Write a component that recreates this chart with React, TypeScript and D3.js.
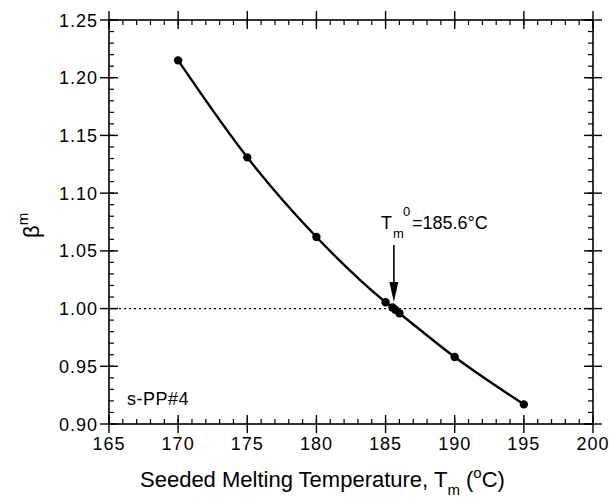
import React from "react";
import * as d3 from "d3";

const temps = [170, 175, 180, 185, 185.5, 185.7, 186, 190, 195];
const betas = [1.215, 1.131, 1.062, 1.0055, 1.001, 0.999, 0.996, 0.958, 0.917];
const curveTemps = [170, 175, 180, 185, 186, 190, 195];
const curveBetas = [1.215, 1.131, 1.062, 1.0055, 0.996, 0.958, 0.917];
const xTicks = [165, 170, 175, 180, 185, 190, 195, 200];
const yTicks = [0.9, 0.95, 1.0, 1.05, 1.1, 1.15, 1.2, 1.25];
const xMinor = d3.range(165, 201, 1);
const yMinor = d3.range(0, 36).map((i) => 0.9 + i * 0.01);
const annotTm = 185.6;
const sampleLabel = "s-PP#4";

const W = 610, H = 497;
const L = 109, R = 593, T = 20, B = 424;
const FONT = "'Liberation Sans', Arial, Helvetica, sans-serif";

export default function App() {
  const x = d3.scaleLinear().domain([165, 200]).range([L, R]);
  const y = d3.scaleLinear().domain([0.9, 1.25]).range([B, T]);
  const line = d3
    .line<number>()
    .x((_, i) => x(curveTemps[i]))
    .y((d) => y(d))
    .curve(d3.curveMonotoneX);
  const major = 9, minor = 5;
  const ax = x(annotTm);
  return (
    <svg width={W} height={H} style={{ position: "absolute", left: 0, top: 0, background: "#fff" }} fontFamily={FONT}>
      <rect x={L} y={T} width={R - L} height={B - T} fill="none" stroke="#000" strokeWidth={1.6} />
      {xMinor.map((v) => (
        <g key={"xm" + v} stroke="#000" strokeWidth={1.2}>
          <line x1={x(v)} x2={x(v)} y1={B} y2={B - minor} />
          <line x1={x(v)} x2={x(v)} y1={T} y2={T + minor} />
        </g>
      ))}
      {yMinor.map((v, i) => (
        <g key={"ym" + i} stroke="#000" strokeWidth={1.2}>
          <line x1={L} x2={L + minor} y1={y(v)} y2={y(v)} />
          <line x1={R} x2={R - minor} y1={y(v)} y2={y(v)} />
        </g>
      ))}
      {xTicks.map((v) => (
        <g key={"x" + v}>
          <line x1={x(v)} x2={x(v)} y1={B - major} y2={B + major} stroke="#000" strokeWidth={1.4} />
          <line x1={x(v)} x2={x(v)} y1={T - major} y2={T + major} stroke="#000" strokeWidth={1.4} />
          <text x={x(v)} y={450} fontSize={18} textAnchor="middle" letterSpacing={1}>{v}</text>
        </g>
      ))}
      {yTicks.map((v) => (
        <g key={"y" + v}>
          <line x1={L - major} x2={L + major} y1={y(v)} y2={y(v)} stroke="#000" strokeWidth={1.4} />
          <line x1={R - major} x2={R + major} y1={y(v)} y2={y(v)} stroke="#000" strokeWidth={1.4} />
          <text x={L - 11} y={y(v) + 6.5} fontSize={18} textAnchor="end" letterSpacing={1}>{v.toFixed(2)}</text>
        </g>
      ))}
      <line x1={L} x2={R} y1={y(1.0)} y2={y(1.0)} stroke="#000" strokeWidth={1.2} strokeDasharray="2,3" />
      <path d={line(curveBetas) || ""} fill="none" stroke="#000" strokeWidth={2.4} />
      {temps.map((t, i) => (
        <circle key={"p" + i} cx={x(t)} cy={y(betas[i])} r={4.2} fill="#000" />
      ))}
      <line x1={ax} x2={ax} y1={245} y2={284} stroke="#000" strokeWidth={1.6} />
      <path d={`M${ax - 4.5},${282} L${ax + 4.5},${282} L${ax},${302} Z`} fill="#000" />
      <text x={381} y={229} fontSize={18}>
        T
      </text>
      <text x={393} y={238} fontSize={13}>m</text>
      <text x={403} y={216} fontSize={13}>0</text>
      <text x={412} y={229} fontSize={18}>=185.6°C</text>
      <text x={127} y={405} fontSize={18} letterSpacing={0.5}>{sampleLabel}</text>
      <text x={140} y={487} fontSize={22}>
        Seeded Melting Temperature, T
        <tspan fontSize={15} dy={8}>m</tspan>
        <tspan dy={-8}> (</tspan>
        <tspan fontSize={15} dy={-9}>o</tspan>
        <tspan dy={9}>C)</tspan>
      </text>
      <g transform="translate(39,238) rotate(-90)">
        <text x={0} y={0} fontSize={22}>
          β<tspan fontSize={15} dy={-11}>m</tspan>
        </text>
      </g>
    </svg>
  );
}
